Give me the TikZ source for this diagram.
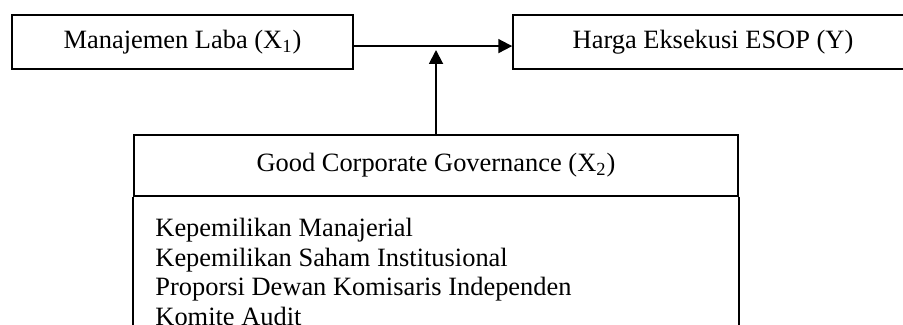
\documentclass[tikz,border=0pt]{standalone}
\usepackage{fontspec}
\setmainfont{Liberation Serif}
\usetikzlibrary{arrows.meta, positioning}

\begin{document}
\begin{tikzpicture}[x=0.01635cm, y=-0.01635cm, font=\fontsize{12.3}{13.7}\selectfont,
  kotak/.style={draw, line width=0.9pt, rectangle, inner sep=0pt},
  panah/.style={-{Triangle[length=6.5pt, width=6.5pt]}, line width=0.9pt}]
% Frame of the picture (the right box and the lower box run off the page)
\clip (0,0) rectangle (903,324);
% Upper row
\node[kotak, minimum width=341*0.465pt, minimum height=54*0.465pt] (laba) at (182.5,42) {Manajemen Laba (X\textsubscript{1})};
\node[kotak, minimum width=400*0.465pt, minimum height=54*0.465pt] (harga) at (713,42) {Harga Eksekusi ESOP (Y)};
% Lower box: title part and list part
\node[kotak, minimum width=604*0.465pt, minimum height=61*0.465pt] (gcg) at (436,165.5) {Good Corporate Governance (X\textsubscript{2})};
\draw[line width=0.9pt] (gcg.south west) -- ++(0,200) (gcg.south east) -- ++(0,200);
\node[anchor=north west, align=left, inner sep=0pt] (indikator) at (155,218) {Kepemilikan Manajerial\\
  Kepemilikan Saham Institusional\\
  Proporsi Dewan Komisaris Independen\\
  Komite Audit};
% Arrows
\coordinate (temu) at (436,50);
\draw[panah] ([yshift=-1.9pt]laba.east) -- ([yshift=-1.9pt]harga.west);
\draw[panah] (gcg.north -| temu) -- (temu);
\end{tikzpicture}
\end{document}
